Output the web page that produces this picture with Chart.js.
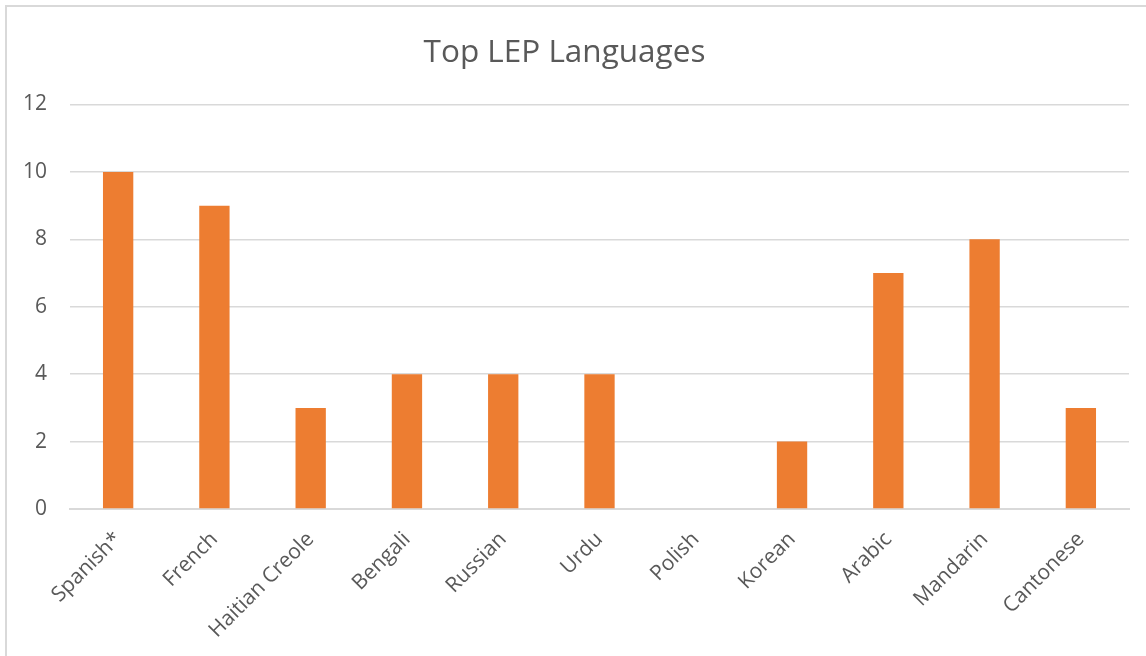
<!DOCTYPE html>
<html>
<head>
<meta charset="utf-8">
<script src="https://cdn.jsdelivr.net/npm/chart.js@4/dist/chart.umd.min.js"></script>
<style>
  html, body { margin: 0; padding: 0; background: #fff; }
  #wrap { position: relative; width: 1146px; height: 656px; }
  #frame { position: absolute; left: 5px; top: 5px; right: -10px; bottom: -10px; border: 2px solid #d9d9d9; box-sizing: border-box; pointer-events: none; }
  canvas { position: absolute; left: 0; top: 0; }
</style>
</head>
<body>
<div id="wrap">
  <canvas id="c" width="1146" height="656"></canvas>
  <div id="frame"></div>
</div>
<script>
const title = 'Top LEP Languages';
const categories = ['Spanish*', 'French', 'Haitian Creole', 'Bengali', 'Russian', 'Urdu', 'Polish', 'Korean', 'Arabic', 'Mandarin', 'Cantonese'];
const values = [10, 9, 3, 4, 4, 4, 0, 2, 7, 8, 3];
const yTicks = [0, 2, 4, 6, 8, 10, 12];

const textColor = '#595959';
const gridColor = '#d9d9d9';
const fontFamily = '"Open Sans", "Noto Sans", sans-serif';

new Chart(document.getElementById('c'), {
  type: 'bar',
  data: {
    labels: categories,
    datasets: [{
      label: 'Count',
      data: values,
      backgroundColor: '#ED7D31',
      borderWidth: 0,
      barPercentage: 0.315,
      categoryPercentage: 1.0
    }]
  },
  options: {
    responsive: false,
    animation: false,
    devicePixelRatio: 1,
    layout: { padding: { left: 0, right: 17, top: 0, bottom: 0 } },
    plugins: {
      legend: { display: false },
      tooltip: { enabled: false },
      title: {
        display: true,
        text: title,
        color: textColor,
        font: { family: fontFamily, size: 31.5, weight: 'normal' },
        padding: { top: 34, bottom: 32.7 }
      }
    },
    scales: {
      x: {
        grid: { display: false, drawTicks: false },
        border: { display: true, color: gridColor, width: 2 },
        ticks: {
          color: textColor,
          font: { family: fontFamily, size: 21 },
          minRotation: 45,
          maxRotation: 45,
          padding: 18,
          autoSkip: false
        },
        afterFit: (s) => { s.height = 147; }
      },
      y: {
        min: 0,
        max: 12,
        afterBuildTicks: (s) => { s.ticks = yTicks.map(v => ({ value: v })); },
        grid: { color: gridColor, lineWidth: 1.5, drawTicks: false },
        border: { display: false },
        ticks: {
          color: textColor,
          font: { family: fontFamily, size: 21 },
          padding: 23
        },
        afterFit: (s) => { s.width = 70; }
      }
    }
  }
});
</script>
</body>
</html>
